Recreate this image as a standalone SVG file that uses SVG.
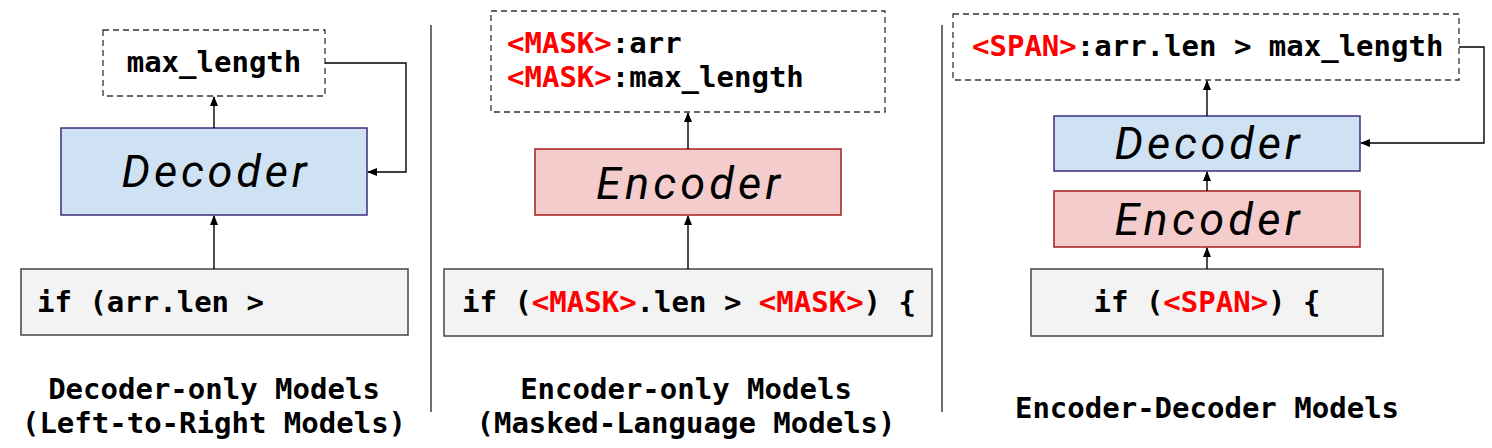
<svg xmlns="http://www.w3.org/2000/svg" width="1492" height="448" viewBox="0 0 1492 448">
<style>
.code{font-family:"DejaVu Sans Mono","Liberation Mono",monospace;font-weight:bold;fill:#000}
.red{fill:#ff0000}
.model{font-family:Roboto,"Noto Sans",sans-serif;font-style:italic;fill:#000}
.dash{fill:#fff;stroke:#333;stroke-width:1.3;stroke-dasharray:6 4}
.dec{fill:#cfe2f3;stroke:#3d2b7f;stroke-width:1.5}
.enc{fill:#f4cccc;stroke:#a61c1c;stroke-width:1.5}
.inp{fill:#f3f3f3;stroke:#444;stroke-width:1.5}
.conn{fill:none;stroke:#000;stroke-width:1.4}
.sep{stroke:#222;stroke-width:1.3}
</style>
<defs>
<marker id="ah" markerWidth="10" markerHeight="8" refX="9" refY="4" orient="auto" markerUnits="userSpaceOnUse">
<path d="M0,0 L10,4 L0,8 Z" fill="#000"/>
</marker>
</defs>
<rect width="1492" height="448" fill="#fff"/>

<g id="separators">
<line class="sep" x1="431" y1="25" x2="431" y2="412"/>
<line class="sep" x1="942" y1="25" x2="942" y2="412"/>
</g>

<!-- Panel 1 -->
<g id="p1-output">
<rect class="dash" x="103" y="30" width="222" height="66"/>
<text class="code" x="214" y="72" font-size="29" text-anchor="middle">max_length</text>
</g>
<g id="p1-decoder">
<rect class="dec" x="61" y="128" width="306" height="87"/>
<text class="model" x="214" y="187" font-size="45" text-anchor="middle" textLength="185" lengthAdjust="spacing">Decoder</text>
</g>
<g id="p1-input">
<rect class="inp" x="21" y="269" width="387" height="66"/>
<text class="code" x="37" y="312" font-size="29">if (arr.len &gt;</text>
</g>
<g id="p1-caption">
<text class="code" x="214" y="399" font-size="29" text-anchor="middle">Decoder-only Models</text>
<text class="code" x="214" y="433" font-size="29" text-anchor="middle">(Left-to-Right Models)</text>
</g>

<!-- Panel 2 -->
<g id="p2-output">
<rect class="dash" x="491" y="11" width="394" height="101"/>
<text class="code" x="507" y="53" font-size="29"><tspan class="red">&lt;MASK&gt;</tspan>:arr</text>
<text class="code" x="507" y="87" font-size="29"><tspan class="red">&lt;MASK&gt;</tspan>:max_length</text>
</g>
<g id="p2-encoder">
<rect class="enc" x="535" y="149" width="306" height="66"/>
<text class="model" x="688" y="199" font-size="45" text-anchor="middle" textLength="184" lengthAdjust="spacing">Encoder</text>
</g>
<g id="p2-input">
<rect class="inp" x="444" y="269" width="488" height="67"/>
<text class="code" x="462" y="312" font-size="29">if (<tspan class="red">&lt;MASK&gt;</tspan>.len &gt; <tspan class="red">&lt;MASK&gt;</tspan>) {</text>
</g>
<g id="p2-caption">
<text class="code" x="686" y="399" font-size="29" text-anchor="middle">Encoder-only Models</text>
<text class="code" x="686" y="433" font-size="29" text-anchor="middle">(Masked-Language Models)</text>
</g>

<!-- Panel 3 -->
<g id="p3-output">
<rect class="dash" x="953" y="14" width="506" height="66"/>
<text class="code" x="972" y="56" font-size="29"><tspan class="red">&lt;SPAN&gt;</tspan>:arr.len &gt; max_length</text>
</g>
<g id="p3-decoder">
<rect class="dec" x="1054" y="116" width="306" height="55"/>
<text class="model" x="1207" y="159" font-size="45" text-anchor="middle" textLength="185" lengthAdjust="spacing">Decoder</text>
</g>
<g id="p3-encoder">
<rect class="enc" x="1054" y="191" width="306" height="56"/>
<text class="model" x="1207" y="235" font-size="45" text-anchor="middle" textLength="185" lengthAdjust="spacing">Encoder</text>
</g>
<g id="p3-input">
<rect class="inp" x="1031" y="269" width="352" height="67"/>
<text class="code" x="1207" y="312" font-size="29" text-anchor="middle">if (<tspan class="red">&lt;SPAN&gt;</tspan>) {</text>
</g>
<g id="p3-caption">
<text class="code" x="1207" y="418" font-size="29" text-anchor="middle">Encoder-Decoder Models</text>
</g>

<g id="connectors">
<line class="conn" x1="214" y1="269" x2="214" y2="216" marker-end="url(#ah)"/>
<line class="conn" x1="214" y1="128" x2="214" y2="97" marker-end="url(#ah)"/>
<path class="conn" d="M325,63 H406 V172 H368" marker-end="url(#ah)"/>
<line class="conn" x1="688" y1="269" x2="688" y2="216" marker-end="url(#ah)"/>
<line class="conn" x1="688" y1="149" x2="688" y2="113" marker-end="url(#ah)"/>
<line class="conn" x1="1207" y1="269" x2="1207" y2="248" marker-end="url(#ah)"/>
<line class="conn" x1="1207" y1="191" x2="1207" y2="172" marker-end="url(#ah)"/>
<line class="conn" x1="1207" y1="116" x2="1207" y2="81" marker-end="url(#ah)"/>
<path class="conn" d="M1459,47 H1484 V143 H1361" marker-end="url(#ah)"/>
</g>
</svg>
